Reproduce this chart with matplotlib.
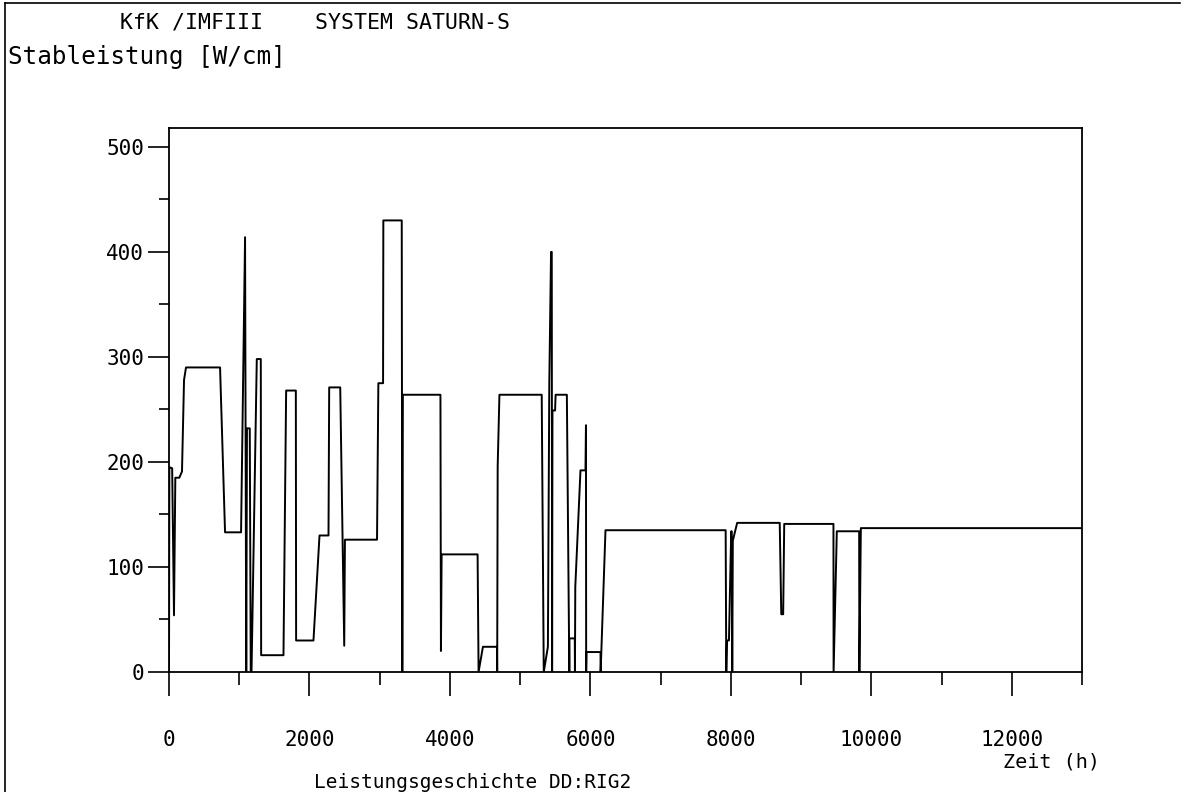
import matplotlib
matplotlib.use("Agg")
import matplotlib.pyplot as plt
from matplotlib.lines import Line2D
from matplotlib.ticker import MultipleLocator, FixedLocator

plt.rcParams['font.family'] = ['DejaVu Sans Mono']

# power history: time in h, linear rod power in W/cm
zeit = [0, 5, 45, 71, 90, 147, 185, 214, 242, 727, 798, 1026, 1083, 1100,
        1110, 1150, 1164, 1175, 1250, 1307, 1312, 1630, 1668, 1806, 1810,
        2057, 2143, 2271, 2281, 2438, 2495, 2505, 2962, 2981, 3048, 3052,
        3314, 3322, 3330, 3865, 3872, 3882, 4394, 4408, 4470, 4670, 4673,
        4680, 4705, 5307, 5336, 5395, 5415, 5440, 5450, 5455, 5460, 5497,
        5505, 5665, 5700, 5702, 5778, 5780, 5785, 5859, 5930, 5937, 5940,
        5945, 6144, 6146, 6215, 7926, 7935, 7945, 7973, 8005, 8012, 8020,
        8028, 8090, 8696, 8718, 8745, 8760, 9461, 9463, 9509, 9827, 9830,
        9851, 13000]
leistung = [0, 195, 194, 54, 185, 185, 191, 278, 290, 290, 133, 133, 414, 0,
            232, 232, 0, 0, 298, 298, 16, 16, 268, 268, 30,
            30, 130, 130, 271, 271, 25, 126, 126, 275, 275, 430,
            430, 0, 264, 264, 20, 112, 112, 0, 24, 24, 0,
            196, 264, 264, 0, 24, 276, 400, 400, 0, 249, 249,
            264, 264, 0, 32, 32, 0, 81, 192, 192, 235, 0,
            19, 19, 0, 135, 135, 0, 30, 30, 134, 134, 0,
            125, 142, 142, 55, 55, 141, 141, 0, 134, 134, 0,
            137, 137]

x_major = [0, 2000, 4000, 6000, 8000, 10000, 12000]
x_minor = [1000, 3000, 5000, 7000, 9000, 11000, 13000]
y_major = [0, 100, 200, 300, 400, 500]

W, H = 1183, 792
fig = plt.figure(figsize=(W / 100, H / 100), dpi=100)
ax = fig.add_axes([169 / W, 1 - 672 / H, (1082 - 169) / W, (672 - 128) / H])

ax.plot(zeit, leistung, color='black', lw=1.4)

ax.set_xlim(0, 13000)
ax.set_ylim(0, 518)
ax.xaxis.set_major_locator(FixedLocator(x_major))
ax.xaxis.set_minor_locator(FixedLocator(x_minor))
ax.yaxis.set_major_locator(FixedLocator(y_major))
ax.yaxis.set_minor_locator(MultipleLocator(50))
ax.set_xticklabels([str(v) for v in x_major])
ax.set_yticklabels([str(v) for v in y_major])

ax.tick_params(which='major', direction='out', width=1.2,
               labelsize=15, color='black')
ax.tick_params(which='minor', direction='out', width=1.2)
ax.tick_params(axis='x', which='major', length=17, pad=25)
ax.tick_params(axis='x', which='minor', length=9)
ax.tick_params(axis='y', which='major', length=15, pad=3)
ax.tick_params(axis='y', which='minor', length=7.5)
for s in ax.spines.values():
    s.set_linewidth(1.3)

# texts in figure pixels
def fx(px):
    return px / W

def fy(py):
    return 1 - py / H

fig.text(fx(120), fy(22), 'KfK /IMFIII    SYSTEM SATURN-S', fontsize=15.5,
         va='center', ha='left')
fig.text(fx(8), fy(57), 'Stableistung [W/cm]', fontsize=17.5,
         va='center', ha='left')
fig.text(fx(1100), fy(762), 'Zeit (h)', fontsize=14.5, va='center', ha='right')
fig.text(fx(473), fy(782), 'Leistungsgeschichte DD:RIG2', fontsize=14,
         va='center', ha='center')

# page frame (left and top)
fig.add_artist(Line2D([fx(5), fx(5)], [fy(3), fy(792)], color='black', lw=1.2))
fig.add_artist(Line2D([fx(5), fx(1180)], [fy(3), fy(3)], color='black', lw=1.2))

fig.savefig('out.png', dpi=100)
